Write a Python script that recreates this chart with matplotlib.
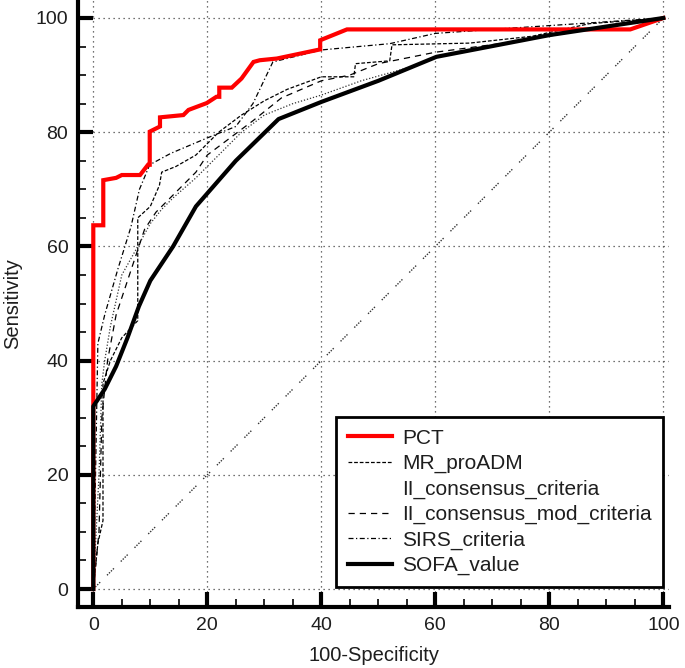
import matplotlib
matplotlib.use("Agg")
import matplotlib.pyplot as plt
from matplotlib.lines import Line2D
from matplotlib.ticker import MultipleLocator

plt.rcParams['font.family'] = ['Liberation Sans', 'DejaVu Sans']

# ROC curves (x = 100-Specificity, y = Sensitivity)
pct_x = [0, 0, 0, 1.75, 1.75, 4, 5, 8.2, 9.6, 9.9, 9.9, 11.7, 11.7, 15.8, 16.7, 19.9, 21.6, 22.1, 22.1,
         24.3, 26, 28.1, 29.2, 32.2, 39.8, 39.8, 44.5, 94.2, 100]
pct_y = [0, 32, 63.7, 63.7, 71.6, 72, 72.5, 72.5, 74.3, 74.3, 80.1, 81, 82.6, 83, 83.9, 85.1, 86.2, 86.2, 87.8,
         87.8, 89.4, 92.3, 92.6, 92.9, 94.5, 96.1, 98, 98, 100]

mr_x = [0, 0.8, 1.7, 1.7, 3, 5, 7.8, 7.8, 10, 11.6, 12, 14.5, 18, 22, 26, 30, 34, 40, 45.7, 46, 52,
        52.4, 66, 77, 87, 100]
mr_y = [0, 8, 12, 36, 40, 44, 47, 65, 67, 70.7, 73, 74, 76, 80, 83, 85.5, 87.5, 89.7, 89.7, 92, 92.5,
        95.3, 95.6, 96.8, 99, 100]

ii_x = [0, 1, 1.5, 2, 3, 5, 7.8, 10, 12, 14, 18, 22, 26, 30, 35, 40, 47, 55.6, 60.3, 80, 100]
ii_y = [0, 20, 36, 40, 46, 55, 60, 64, 66.5, 68.5, 72, 76, 80, 83, 85, 86.5, 89, 91.4, 93.3, 97, 100]

iimod_x = [0, 1, 1.5, 2.5, 4, 6, 8, 9, 11, 14, 18, 20, 24, 28, 33, 40, 45, 50, 60, 75, 90, 100]
iimod_y = [0, 10, 30, 40, 48, 54, 60, 63, 66, 69, 73, 76, 79, 82, 86, 89, 90, 92, 94, 96, 98.5, 100]

sirs_x = [0, 0.3, 0.8, 2, 4.3, 6.6, 8.1, 9.9, 13.6, 20, 25, 28, 31.5, 40, 52, 60, 70, 100]
sirs_y = [0, 15, 43, 48, 56, 63.4, 70, 74.3, 76.3, 79, 81, 85, 92.3, 94.4, 95.5, 97.3, 98, 100]

sofa_x = [0, 0, 2, 4, 6, 8, 10, 14, 18, 25, 32.5, 40, 50, 60.2, 80, 100]
sofa_y = [0, 32, 35, 39, 44, 49.5, 54, 60, 67, 75, 82.3, 85.3, 89, 93.2, 97, 100]

labels = ['PCT', 'MR_proADM', 'II_consensus_criteria', 'II_consensus_mod_criteria', 'SIRS_criteria',
          'SOFA_value']
ticks = [0, 20, 40, 60, 80, 100]

fig = plt.figure(figsize=(6.85, 6.68), dpi=100)
ax = fig.add_axes([0.1139, 0.0913, 0.8628, 0.9087])

# grid + reference diagonal
for t in ticks:
    ax.axhline(t, color='#444444', lw=0.9, ls=(0, (1, 3)), zorder=1)
    ax.axvline(t, color='#444444', lw=0.9, ls=(0, (1, 3)), zorder=1)
ax.plot([0, 100], [0, 100], color='#333333', lw=1.0,
        ls=(0, (1, 1, 1, 1, 1, 1, 1, 7)), zorder=1)

ax.plot(mr_x, mr_y, color='black', lw=0.9, ls=(0, (3, 1.5)), zorder=2)
ax.plot(ii_x, ii_y, color='#333333', lw=0.9, ls=(0, (1, 1.5)), zorder=2)
ax.plot(iimod_x, iimod_y, color='black', lw=0.9, ls=(0, (5, 4)), zorder=2)
ax.plot(sirs_x, sirs_y, color='black', lw=0.9, ls=(0, (4, 2, 1, 2)), zorder=2)
ax.plot(pct_x, pct_y, color='#ff0000', lw=3, zorder=3, solid_joinstyle='miter')
ax.plot(sofa_x, sofa_y, color='black', lw=3, zorder=4)

ax.set_xlim(-2.68, 101)
ax.set_ylim(-3.15, 103.15)

for s in ['top', 'right']:
    ax.spines[s].set_visible(False)
for s in ['left', 'bottom']:
    ax.spines[s].set_linewidth(3)

ax.set_xticks(ticks)
ax.set_yticks(ticks)
ax.xaxis.set_minor_locator(MultipleLocator(5))
ax.yaxis.set_minor_locator(MultipleLocator(5))
ax.tick_params(which='major', direction='in', length=11, width=3, pad=7,
               labelsize=14, labelcolor='#1e1e1e')
ax.tick_params(which='minor', direction='in', length=6, width=1.2)

ax.set_xlabel('100-Specificity', fontsize=14.5, color='#1e1e1e', labelpad=9)
ax.set_ylabel('Sensitivity', fontsize=14.5, color='#1e1e1e', labelpad=10)

handles = [
    Line2D([], [], color='#ff0000', lw=3),
    Line2D([], [], color='black', lw=0.9, ls=(0, (3, 1.5))),
    Line2D([], [], color='none', lw=0.9),
    Line2D([], [], color='black', lw=0.9, ls=(0, (5, 4))),
    Line2D([], [], color='black', lw=0.9, ls=(0, (4, 2, 1, 2))),
    Line2D([], [], color='black', lw=3),
]
leg = ax.legend(handles, labels, loc='lower right', bbox_to_anchor=(0.99, 0.0334),
                borderaxespad=0, fontsize=15, fancybox=False, framealpha=1,
                edgecolor='black', labelspacing=0.3, handlelength=2.1, handletextpad=0.5,
                borderpad=0.55)
leg.get_frame().set_linewidth(2)
leg.set_zorder(5)
for txt in leg.get_texts():
    txt.set_color('#1e1e1e')

fig.savefig('out.png', dpi=100)
